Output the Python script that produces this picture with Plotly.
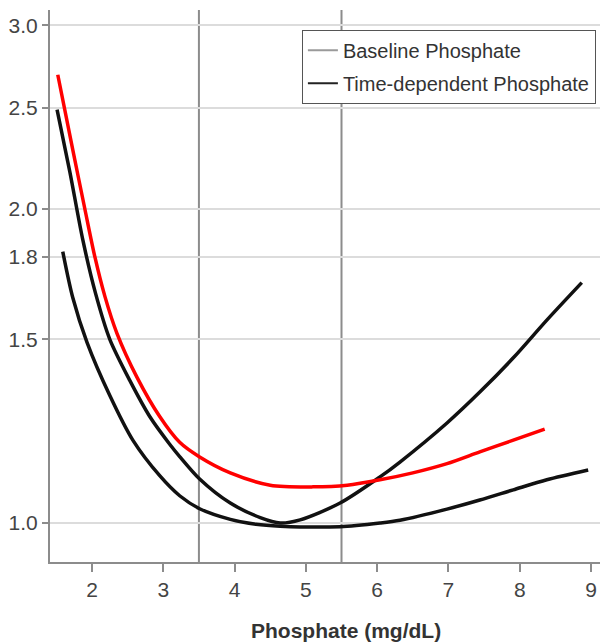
import plotly.graph_objects as go

# ---- data ----
x_red = [1.52, 1.73, 1.90, 2.04, 2.18, 2.35, 2.63, 2.95, 3.23, 3.51, 3.94, 4.50, 5.10, 5.58,
         6.04, 6.50, 6.98, 7.44, 7.90, 8.35]
y_red = [2.69, 2.28, 2.00, 1.80, 1.65, 1.52, 1.38, 1.265, 1.195, 1.157, 1.117, 1.087, 1.083, 1.087,
         1.10, 1.117, 1.14, 1.17, 1.20, 1.23]

x_time = [1.51, 1.69, 1.87, 2.05, 2.25, 2.53, 2.81, 3.09, 3.23, 3.51, 3.94, 4.36, 4.64, 4.92,
          5.48, 6.04, 6.32, 6.98, 7.44, 7.91, 8.38, 8.87]
y_time = [2.49, 2.17, 1.87, 1.66, 1.50, 1.37, 1.265, 1.19, 1.158, 1.102, 1.045, 1.012, 1.0, 1.007,
          1.045, 1.107, 1.144, 1.247, 1.335, 1.44, 1.565, 1.70]

x_base = [1.59, 1.73, 1.93, 2.25, 2.575, 2.95, 3.23, 3.51, 3.94, 4.30, 4.64, 5.48, 6.04, 6.32,
          6.98, 7.44, 7.91, 8.38, 8.96]
y_base = [1.82, 1.645, 1.49, 1.325, 1.20, 1.11, 1.062, 1.032, 1.008, 0.997, 0.993, 0.992, 1.0, 1.006,
          1.031, 1.052, 1.076, 1.10, 1.124]

ref_lines = [3.5, 5.5]
y_ticks = [1.0, 1.5, 1.8, 2.0, 2.5, 3.0]
y_tick_labels = ["1.0", "1.5", "1.8", "2.0", "2.5", "3.0"]
x_ticks = [2, 3, 4, 5, 6, 7, 8, 9]
legend_names = ["Baseline Phosphate", "Time-dependent Phosphate"]
legend_colors = ["#9a9a9a", "#222222"]

FONT = "Liberation Sans, Arial, sans-serif"

fig = go.Figure()

line_kw = dict(width=3.5, shape="spline", smoothing=0.8)
fig.add_trace(go.Scatter(x=x_base, y=y_base, mode="lines", line=dict(color="#111111", **line_kw),
                         showlegend=False, name="Baseline Phosphate"))
fig.add_trace(go.Scatter(x=x_time, y=y_time, mode="lines", line=dict(color="#111111", **line_kw),
                         showlegend=False, name="Time-dependent Phosphate"))
fig.add_trace(go.Scatter(x=x_red, y=y_red, mode="lines", line=dict(color="#ff0000", **line_kw),
                         showlegend=False, name="Overall"))

for i, (nm, col) in enumerate(zip(legend_names, legend_colors)):
    fig.add_trace(go.Scatter(x=[None], y=[None], mode="lines", line=dict(color=col, width=2),
                             name=nm, showlegend=True, legendgroup=f"g{i}"))

for xv in ref_lines:
    fig.add_vline(x=xv, line=dict(color="#8c8c8c", width=2), layer="below")

fig.update_layout(
    width=602, height=644,
    margin=dict(l=50, r=2, t=10, b=82, autoexpand=False),
    paper_bgcolor="white", plot_bgcolor="white",
    font=dict(family=FONT, color="#444444", size=20),
    legend=dict(x=0.458, y=0.964, xanchor="left", yanchor="top",
                bordercolor="#555555", borderwidth=1, bgcolor="white",
                font=dict(size=20, color="#333333"), tracegroupgap=4, itemwidth=30),
    xaxis=dict(range=[1.411, 9.126], tickvals=x_ticks, showgrid=False, zeroline=False,
               automargin=False, ticklabeloverflow="allow",
               showline=True, linecolor="#8c8c8c", linewidth=2,
               ticks="outside", ticklen=8, tickcolor="#8c8c8c", tickwidth=2,
               tickfont=dict(size=21, color="#444444")),
    yaxis=dict(type="log", range=[-0.0374, 0.4918], tickvals=y_ticks, ticktext=y_tick_labels,
               automargin=False, ticklabeloverflow="allow",
               showgrid=True, gridcolor="#dcdcdc", gridwidth=2, zeroline=False,
               showline=True, linecolor="#8c8c8c", linewidth=2,
               ticks="outside", ticklen=6, tickcolor="#8c8c8c", tickwidth=2,
               tickfont=dict(size=21, color="#444444")),
    annotations=[dict(text="<b>Phosphate (mg/dL)</b>", x=0.538, y=-0.1, xref="paper", yref="paper",
                      xanchor="center", yanchor="top", showarrow=False,
                      font=dict(size=21, color="#333333", family=FONT))],
)

fig.write_html("out.html", config={"displayModeBar": False},
               post_script="document.body.style.margin='0';document.body.style.padding='0';")
